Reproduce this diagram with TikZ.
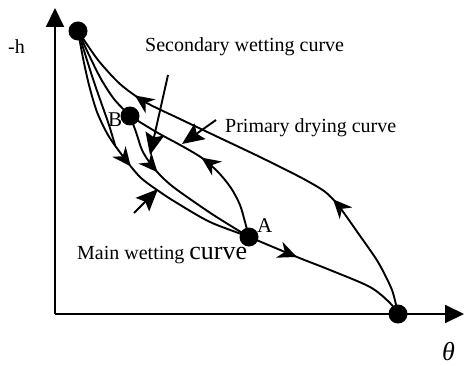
\documentclass[tikz,border=0pt]{standalone}
\usepackage{fontspec}
\setmainfont{Liberation Serif}
\usetikzlibrary{arrows.meta,decorations.markings}
\tikzset{
  midtip/.tip={Stealth[length=19pt,width=17pt,inset=6pt]},
  curve/.style={line width=1.9pt},
  axis/.style={line width=2pt,-{Triangle[length=19pt,width=18pt]}},
  dot/.style={circle,fill=black,inner sep=0pt,minimum size=19pt},
  ptr/.style={line width=1.9pt,-{Stealth[length=22pt,width=19pt,inset=4pt]}},
  lbl/.style={font=\fontsize{20}{24}\selectfont,inner sep=0pt,anchor=base west},
  mk/.style={postaction={decorate,decoration={markings,mark=at position #1 with {\arrow{midtip}}}}}
}
\begin{document}
\begin{tikzpicture}[x=1pt,y=-1pt]
\useasboundingbox (0,0) rectangle (465,366);
% key points
\coordinate (O) at (55,314);
\coordinate (ytip) at (55,8);
\coordinate (xtip) at (464,314);
\coordinate (t) at (78,31);
\coordinate (b) at (130,116);
\coordinate (a) at (249,237);
\coordinate (s) at (398,314);
% axes
\draw[axis] (O) -- (ytip);
\draw[axis] (O) -- (xtip);
% main drying curve (S -> T)
\draw[curve,mk=0.30,mk=0.805] plot[smooth,tension=0.45] coordinates {(s) (392,290) (378,262) (358,233) (338,205) (324,191) (300,177) (260,157) (220,138) (180,119) (145,102) (120,84) (98,60) (t)};
% main wetting curve (T -> A -> S)
\draw[curve,mk=0.323,mk=0.741] plot[smooth] coordinates {(t) (83,58) (89,85) (97,112) (108,135) (122,155) (140,177) (160,192) (177,203) (210,222) (a) (297,257) (330,270) (370,287) (390,303) (s)};
% second curve from T merging into main wetting
\coordinate (m) at (115,145);
\draw[curve] plot[smooth] coordinates {(t) (86,57) (94,82) (102,105) (109,125) (m)};
% curve T -> B
\draw[curve] plot[smooth] coordinates {(t) (89,55) (101,79) (114,99) (b)};
% secondary wetting curve (B -> A)
\draw[curve,mk=0.36] plot[smooth] coordinates {(b) (136,132) (142,150) (150,163) (160,175) (172,186) (190,199) (215,216) (a)};
% primary drying curve (A -> B)
\draw[curve,mk=0.535] plot[smooth] coordinates {(a) (245,222) (240,205) (231,188) (218,172) (202,158) (182,146) (158,133) (b)};
% dots
\node[dot] (T) at (t) {};
\node[dot] (B) at (b) {};
\node[dot] (A) at (a) {};
\node[dot] (S) at (s) {};
% labels
\node[lbl] (lh) at (8,54) {-h};
\node[lbl,font=\fontsize{26}{28}\selectfont] (lth) at (442,360) {\textit{θ}};
\node[lbl,font=\fontsize{21}{24}\selectfont] (lB) at (108,127) {B};
\node[lbl,font=\fontsize{21}{24}\selectfont] (lA) at (257,232) {A};
\node[lbl] (lsec) at (145,52) {Secondary wetting curve};
\node[lbl] (lpri) at (225,133) {Primary drying curve};
\node[lbl] (lmain) at (77,259) {Main wetting {\fontsize{26}{28}\selectfont curve}};
% pointers
\coordinate (p1s) at (168,75);
\coordinate (p1e) at (150,155);
\draw[ptr] (p1s) -- (p1e);
\coordinate (p2s) at (216,120);
\coordinate (p2e) at (182,144);
\draw[ptr] (p2s) -- (p2e);
\coordinate (p3s) at (134,213);
\coordinate (p3e) at (158,189);
\draw[ptr] (p3s) -- (p3e);
\end{tikzpicture}
\end{document}
